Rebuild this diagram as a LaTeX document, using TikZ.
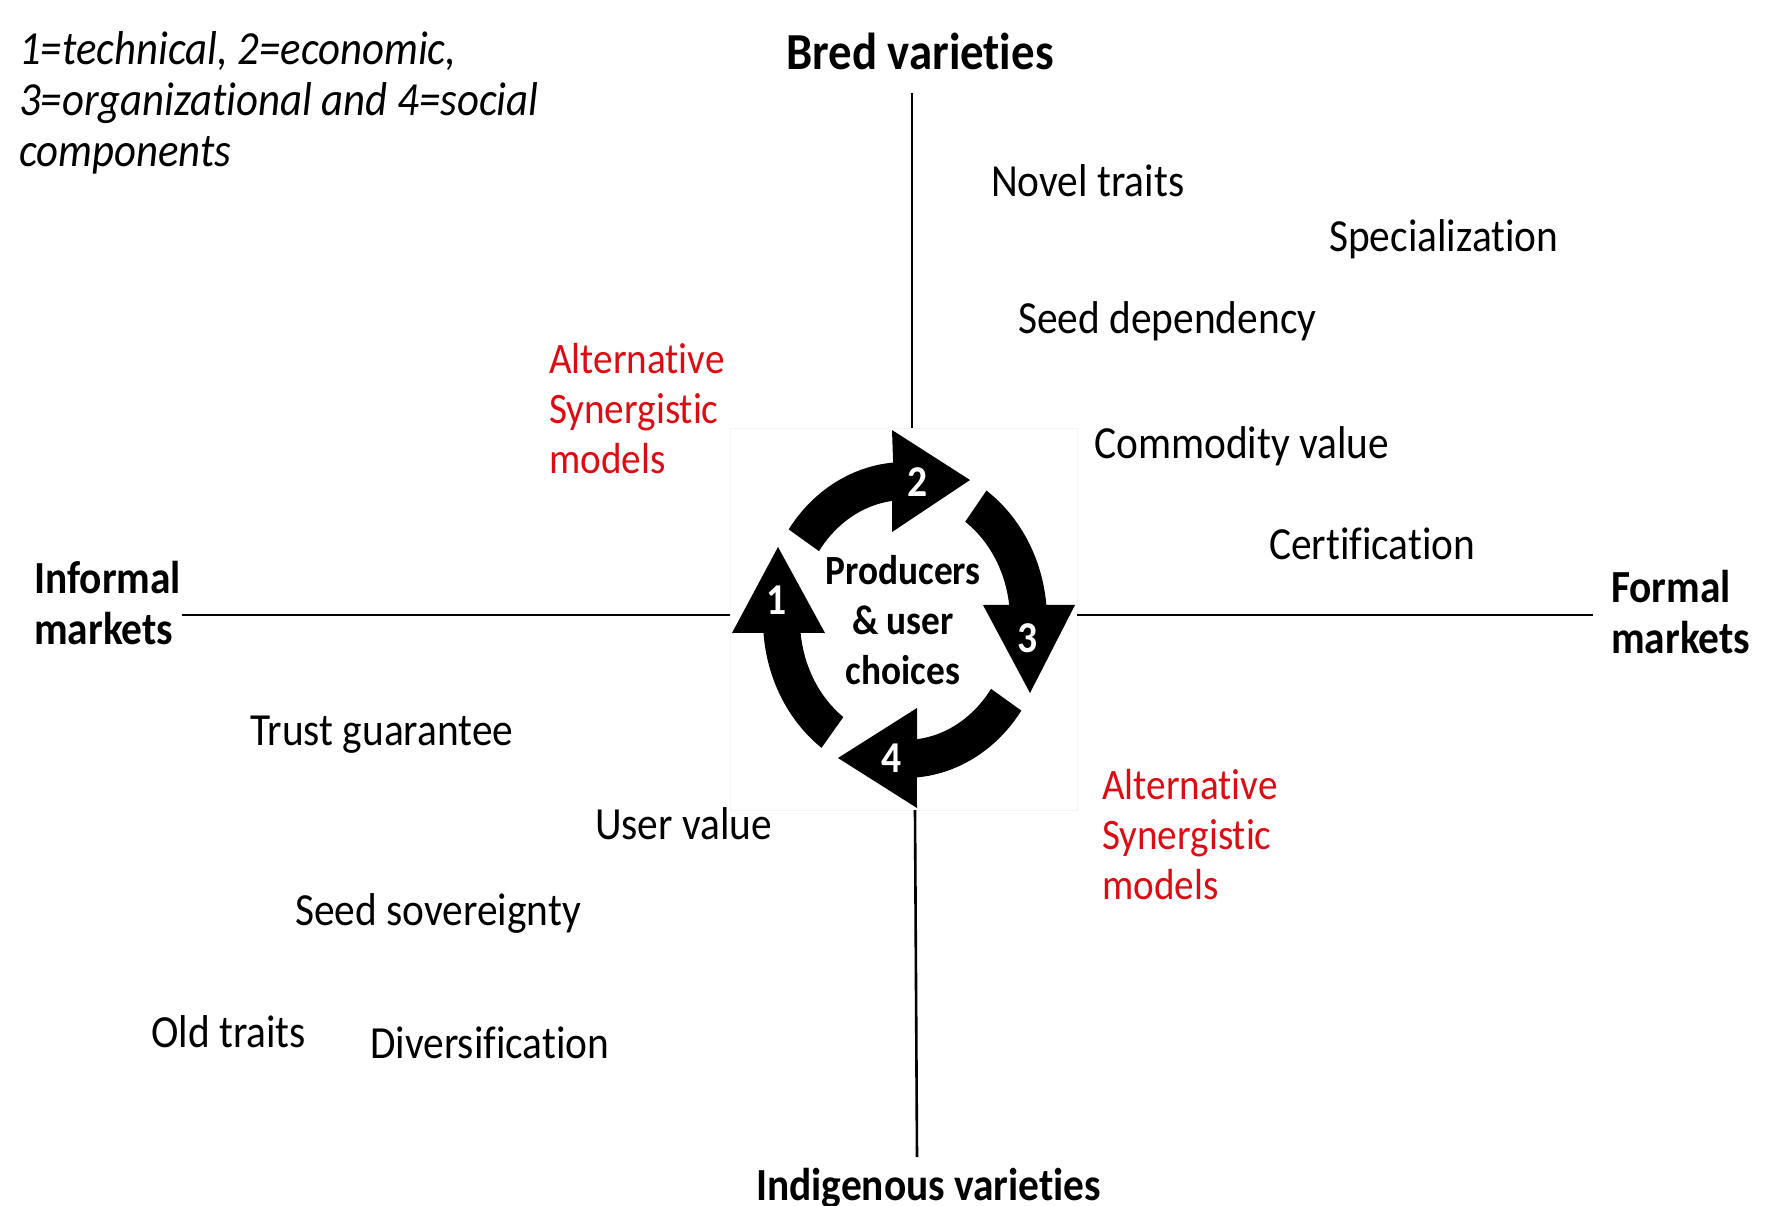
\documentclass[tikz,border=0pt]{standalone}
\usepackage{fontspec}
\setmainfont{Carlito}[FakeStretch=0.9, Ligatures=NoCommon]
\definecolor{altred}{RGB}{222,12,18}
\begin{document}
\begin{tikzpicture}[x=1pt,y=-1pt,
  lbl/.style={inner sep=0pt, anchor=base west, align=left, font=\fontsize{46}{50}\selectfont},
  bold/.style={lbl, font=\fontsize{46}{51}\selectfont\bfseries},
  redlbl/.style={lbl, text=altred, font=\fontsize{43.5}{50}\selectfont},
  axisline/.style={line width=2.6pt, black},
  num/.style={inner sep=0pt, text=white, font=\fontsize{44}{44}\selectfont\bfseries},
  cyc/.style={fill=black}]
\useasboundingbox (0,0) rectangle (1765,1206);

% faint frame of the central picture
\draw[black!4, line width=1pt] (730,428) rectangle (1077,810);

% axes
\coordinate (topA) at (912,93);
\coordinate (topB) at (912,428);
\coordinate (botA) at (915,810);
\coordinate (botB) at (917,1157);
\coordinate (leftA) at (182,615);
\coordinate (leftB) at (730,615);
\coordinate (rightA) at (1077,615);
\coordinate (rightB) at (1593,615);
\draw[axisline] (topA) -- (topB);
\draw[axisline] (botA) -- (botB);
\draw[axisline] (leftA) -- (leftB);
\draw[axisline] (rightA) -- (rightB);

% cycle of four arrows
\begin{scope}[shift={(905,620)}]
  % arrow 2 (top)
  \fill[cyc] (215:105 and 120) -- (215:142 and 158)
    arc[start angle=215, end angle=265.2, x radius=142, y radius=158]
    -- (-13,-190) -- (65,-140) -- (-13,-88) -- (262.9:105 and 120)
    arc[start angle=262.9, end angle=215, x radius=105, y radius=120] -- cycle;
  % arrow 3 (right)
  \fill[cyc] (305:105 and 120) -- (305:142 and 158)
    arc[start angle=305, end angle=354.5, x radius=142, y radius=158]
    -- (170,-15) -- (125,73) -- (78,-15) -- (352.8:105 and 120)
    arc[start angle=352.8, end angle=305, x radius=105, y radius=120] -- cycle;
  % arrow 4 (bottom)
  \fill[cyc] (35:105 and 120) -- (35:142 and 158)
    arc[start angle=35, end angle=85.2, x radius=142, y radius=158]
    -- (12,188) -- (-67,138) -- (12,88) -- (83.4:105 and 120)
    arc[start angle=83.4, end angle=35, x radius=105, y radius=120] -- cycle;
  % arrow 1 (left)
  \fill[cyc] (126:105 and 120) -- (126:142 and 158)
    arc[start angle=126, end angle=175.3, x radius=142, y radius=158]
    -- (-173,13) -- (-127,-73) -- (-80,13) -- (173.8:105 and 120)
    arc[start angle=173.8, end angle=126, x radius=105, y radius=120] -- cycle;
  \node[num] (n2) at (13,-138) {2};
  \node[num] (n3) at (123,18) {3};
  \node[num] (n1) at (-128,-20) {1};
  \node[num] (n4) at (-13,138) {4};
\end{scope}

\node[inner sep=0pt, align=center, font=\fontsize{41.5}{50}\selectfont\bfseries] (center) at (903,620) {Producers\\\& user\\choices};

% labels (multi-line nodes: base = last line's baseline)
\node[lbl, font=\fontsize{47.5}{51}\selectfont\itshape] (note) at (19,167) {1=technical, 2=economic,\\3=organizational and 4=social\\components};
\node[bold, font=\fontsize{52}{52}\selectfont\bfseries] (bred) at (786,70) {Bred varieties};
\node[bold] (indig) at (756,1200) {Indigenous varieties};
\node[bold] (informal) at (34,644) {Informal\\markets};
\node[bold] (formal) at (1611,653) {Formal\\markets};

\node[lbl] (novel) at (991,197) {Novel traits};
\node[lbl] (spec) at (1329,252) {Specialization};
\node[lbl] (seeddep) at (1018,334) {Seed dependency};
\node[lbl] (commod) at (1094,458) {Commodity value};
\node[lbl] (cert) at (1269,559) {Certification};
\node[lbl] (trust) at (250,745) {Trust guarantee};
\node[lbl] (user) at (595,839) {User value};
\node[lbl] (sov) at (295,925) {Seed sovereignty};
\node[lbl] (old) at (151,1047) {Old traits};
\node[lbl] (div) at (370,1058) {Diversification};

\node[redlbl] (alt1) at (549,473) {Alternative\\Synergistic\\models};
\node[redlbl] (alt2) at (1102,899) {Alternative\\Synergistic\\models};
\end{tikzpicture}
\end{document}
